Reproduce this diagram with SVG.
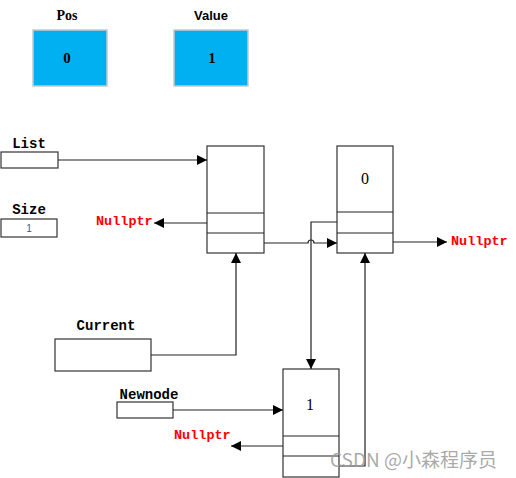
<svg xmlns="http://www.w3.org/2000/svg" width="516" height="478" viewBox="0 0 516 478">
<style>
.box{fill:#fff;stroke:#333;stroke-width:1.2}
.blue{fill:#00b0f0;stroke:#c8c8c8;stroke-width:1.5}
.lbl{font-family:"Liberation Mono",monospace;font-weight:bold;font-size:14px;fill:#000}
.null{font-family:"Liberation Mono",monospace;font-weight:bold;font-size:13.5px;fill:#ff0000}
.num{font-family:"Liberation Serif",serif;font-size:16px;fill:#000;text-anchor:middle}
.ln{fill:none;stroke:#222;stroke-width:1.2}
.wm{font-family:"Noto Sans CJK SC","Liberation Sans",sans-serif;font-size:19px;fill:#9a9a9a;fill-opacity:0.85}
</style>
<defs>
<marker id="ah" viewBox="0 0 10 10" refX="10" refY="5" markerWidth="10" markerHeight="10" markerUnits="userSpaceOnUse" orient="auto">
<path d="M0,0 L10,5 L0,10 z" fill="#000"/>
</marker>
</defs>
<g id="pos">
<text x="67" y="20" text-anchor="middle" style="font-family:'Liberation Serif',serif;font-weight:bold;font-size:14px">Pos</text>
<rect x="33" y="30" width="74" height="56" class="blue"/>
<text x="67" y="63" class="num" style="font-weight:bold;font-size:15px">0</text>
</g>
<g id="value">
<text x="211" y="20" text-anchor="middle" style="font-family:'Liberation Sans',sans-serif;font-weight:bold;font-size:13px">Value</text>
<rect x="174" y="30" width="74" height="56" class="blue"/>
<text x="212" y="63" class="num" style="font-weight:bold;font-size:15px">1</text>
</g>
<g id="list">
<text x="29" y="148" class="lbl" text-anchor="middle">List</text>
<rect x="1" y="152" width="57" height="16" class="box"/>
</g>
<g id="size">
<text x="29" y="214" class="lbl" text-anchor="middle">Size</text>
<rect x="1" y="219" width="56" height="18" class="box"/>
<text x="29" y="232" text-anchor="middle" style="font-family:'Liberation Sans',sans-serif;font-size:10px;fill:#1a5fb4">1</text>
</g>
<g id="nodeA">
<rect x="207" y="146" width="57" height="107" class="box"/>
<line x1="207" y1="213" x2="264" y2="213" class="ln"/>
<line x1="207" y1="233" x2="264" y2="233" class="ln"/>
</g>
<g id="nodeB">
<rect x="337" y="146" width="56" height="107" class="box"/>
<line x1="337" y1="212" x2="393" y2="212" class="ln"/>
<line x1="337" y1="233" x2="393" y2="233" class="ln"/>
<text x="365" y="184" class="num">0</text>
</g>
<g id="current">
<text x="106" y="330" class="lbl" text-anchor="middle">Current</text>
<rect x="55" y="339" width="96" height="32" class="box"/>
</g>
<g id="newnode">
<text x="149" y="399" class="lbl" text-anchor="middle">Newnode</text>
<rect x="117" y="402" width="56" height="16" class="box"/>
</g>
<g id="node1">
<rect x="283" y="369" width="56" height="108" class="box"/>
<line x1="283" y1="436" x2="339" y2="436" class="ln"/>
<line x1="283" y1="456" x2="339" y2="456" class="ln"/>
<text x="310" y="410" class="num">1</text>
</g>
<g id="labels">
<text x="96" y="225" class="null">Nullptr</text>
<text x="451" y="245" class="null">Nullptr</text>
<text x="174" y="439" class="null">Nullptr</text>
</g>
<g id="connectors">
<line x1="58" y1="160" x2="207" y2="160" class="ln" marker-end="url(#ah)"/>
<line x1="207" y1="223" x2="154" y2="223" class="ln" marker-end="url(#ah)"/>
<path d="M264,243 H308 A3,3 0 0 1 314,243 H337" class="ln" marker-end="url(#ah)"/>
<path d="M337,222 H311 V369" class="ln" marker-end="url(#ah)"/>
<line x1="393" y1="242" x2="447" y2="242" class="ln" marker-end="url(#ah)"/>
<path d="M151,355 H236 V253" class="ln" marker-end="url(#ah)"/>
<line x1="173" y1="410" x2="283" y2="410" class="ln" marker-end="url(#ah)"/>
<line x1="283" y1="446" x2="231" y2="446" class="ln" marker-end="url(#ah)"/>
<path d="M339,466 H365 V253" class="ln" marker-end="url(#ah)"/>
</g>
<text x="330" y="467" class="wm">CSDN @小森程序员</text>
</svg>
